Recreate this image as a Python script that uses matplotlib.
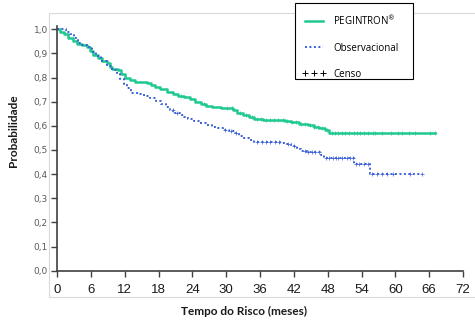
import numpy as np
import matplotlib
matplotlib.use("Agg")
import matplotlib.pyplot as plt
from matplotlib.lines import Line2D
from matplotlib.patches import Rectangle

# Kaplan-Meier estimates (months, survival probability)
peg_t = [0, 0.5, 1.2, 2.0, 2.8, 3.5, 4.5, 5.3, 5.9, 6.4, 7.2, 8.0, 8.8, 9.4, 9.8,
         10.8, 11.3, 12.0, 12.9, 13.8, 15.9, 16.6, 17.4, 18.3, 19.5, 20.5, 21.5,
         22.5, 23.5, 24.5, 25.5, 26.5, 27.5, 29.0, 30.5, 31.3, 32.0, 33.0, 34.0,
         35.0, 36.5, 39.0, 40.5, 41.5, 43.0, 44.5, 45.5, 46.5, 47.5, 48.3, 67.0]
peg_s = [1.0, 0.99, 0.98, 0.965, 0.95, 0.94, 0.935, 0.925, 0.91, 0.895, 0.88, 0.87,
         0.86, 0.845, 0.835, 0.83, 0.815, 0.80, 0.79, 0.782, 0.778, 0.77, 0.76,
         0.752, 0.742, 0.733, 0.725, 0.718, 0.71, 0.70, 0.69, 0.683, 0.678, 0.676,
         0.674, 0.665, 0.655, 0.645, 0.636, 0.630, 0.626, 0.624, 0.620, 0.614,
         0.608, 0.602, 0.596, 0.59, 0.584, 0.572, 0.572]

obs_t = [0, 1.6, 2.3, 3.0, 3.8, 4.5, 5.3, 6.2, 7.0, 7.8, 8.8, 9.7, 10.6, 11.2, 11.8,
         12.5, 13.2, 14.5, 15.5, 16.5, 17.5, 18.5, 19.3, 20.0, 20.6, 21.8, 22.5,
         23.3, 24.3, 25.3, 26.5, 27.5, 28.5, 29.5, 30.5, 31.5, 32.3, 33.0, 34.0,
         35.0, 39.5, 40.5, 41.5, 42.5, 43.3, 44.3, 46.8, 47.4, 52.7, 55.5, 64.7]
obs_s = [1.0, 0.99, 0.98, 0.962, 0.945, 0.935, 0.925, 0.905, 0.888, 0.87, 0.848,
         0.83, 0.815, 0.795, 0.775, 0.755, 0.738, 0.73, 0.722, 0.714, 0.705, 0.692,
         0.678, 0.664, 0.652, 0.645, 0.638, 0.628, 0.62, 0.611, 0.603, 0.597, 0.59,
         0.584, 0.578, 0.571, 0.56, 0.548, 0.54, 0.534, 0.531, 0.524, 0.516, 0.505,
         0.495, 0.49, 0.48, 0.466, 0.44, 0.40, 0.40]

# Censored observations (months)
peg_cens = [22.0, 26.0, 30.2, 31.0, 32.5, 33.5, 34.5, 35.5, 36.2, 37.0, 37.8, 38.5,
            39.2, 40.0, 40.8, 41.6, 42.4, 43.2, 44.0, 44.8, 45.6, 46.3, 47.0, 47.8,
            48.7, 49.3, 49.9, 50.5, 51.1, 51.7, 52.6, 53.2, 53.8, 54.4, 55.2, 56.1,
            56.4, 57.6, 59.3, 60.5, 61.1, 62.5, 63.4, 66.1, 67.0]
obs_cens = [20.5, 21.2, 29.8, 30.8, 31.8, 35.5, 36.3, 37.0, 37.8, 38.6, 39.3, 41.0,
            42.0, 44.0, 44.6, 45.2, 45.8, 46.4, 47.7, 48.2, 48.9, 49.4, 49.8, 50.5,
            51.4, 51.9, 52.5, 53.0, 53.6, 54.5, 55.2, 55.8, 56.7, 57.6, 58.5, 59.6,
            62.6, 64.7]

x_ticks = list(range(0, 73, 6))
y_ticks = [i / 10 for i in range(11)]
y_labels = [f"{v:.1f}".replace(".", ",") for v in y_ticks]

GREEN = "#1ec88f"
BLUE = "#3a5fd8"


def step_value(t_arr, s_arr, t):
    idx = np.searchsorted(t_arr, t, side="right") - 1
    return np.asarray(s_arr)[np.clip(idx, 0, len(s_arr) - 1)]


W, H = 475, 325
fig = plt.figure(figsize=(W / 100, H / 100), dpi=100)
fig.patch.set_facecolor("white")

# light plot-area frame
fig.add_artist(Rectangle((49 / W, 1 - 297 / H), (W + 2 - 49) / W, (297 - 13) / H,
                         transform=fig.transFigure, fill=False,
                         edgecolor="#d9d9d9", linewidth=0.8))

ax = fig.add_axes([57 / W, 1 - 270.7 / H, (463 - 57) / W, (270.7 - 26) / H])

ax.plot(peg_t, peg_s, drawstyle="steps-post", color=GREEN, lw=1.8)
ax.plot(obs_t, obs_s, drawstyle="steps-post", color=BLUE, lw=1.4,
        linestyle=(0, (1, 1.3)))

ax.plot(peg_cens, step_value(peg_t, peg_s, peg_cens), ls="none", marker="+",
        ms=2.5, mew=0.5, color=GREEN)
ax.plot(obs_cens, step_value(obs_t, obs_s, obs_cens), ls="none", marker="+",
        ms=2.5, mew=0.5, color=BLUE)

ax.set_xlim(0, 72)
ax.set_ylim(0, (270.7 - 26) / 241.4)
ax.set_xticks(x_ticks)
ax.set_xticklabels([str(v) for v in x_ticks], fontsize=9.5,
                   family="Liberation Sans", color="#1a1a1a")
ax.set_yticks(y_ticks)
ax.set_yticklabels(y_labels, fontsize=6.5, family="DejaVu Sans", color="#595959")

for side in ("top", "right"):
    ax.spines[side].set_visible(False)
for side in ("left", "bottom"):
    ax.spines[side].set_color("#404040")
    ax.spines[side].set_linewidth(1.2)
ax.tick_params(axis="x", length=4, width=1, color="#404040", pad=5.5)
ax.tick_params(axis="y", length=4, width=1, color="#404040", pad=2.5)

fig.text(244 / W, 1 - 311 / H, "Tempo do Risco (meses)", ha="center", va="center",
         fontsize=8.5, fontweight="bold", family="Lato", color="#1a1a1a")
fig.text(14 / W, 1 - 131 / H, "Probabilidade", ha="center", va="center",
         rotation=90, fontsize=8.5, fontweight="bold", family="Lato",
         color="#1a1a1a")

# legend box
fig.add_artist(Rectangle((295 / W, 1 - 79 / H), (413 - 295) / W, (79 - 3) / H,
                         transform=fig.transFigure, facecolor="white",
                         edgecolor="black", linewidth=0.8, zorder=5))

handles = [
    Line2D([], [], color=GREEN, lw=1.8),
    Line2D([], [], color=BLUE, lw=1.4, linestyle=(0, (1, 1.3))),
    Line2D([], [], color="black", ls="none", marker="+", ms=4, mew=0.7),
]
labels = ["PEGINTRON$^{\u00ae}$", "Observacional", "Censo"]
leg = fig.legend(handles, labels, loc="upper left",
                 bbox_to_anchor=(295 / W, 1 - 7 / H),
                 bbox_transform=fig.transFigure, borderaxespad=0,
                 numpoints=3, frameon=False,
                 prop={"family": "Open Sans", "size": 7},
                 labelspacing=1.55, handlelength=2.5, handletextpad=0.75,
                 borderpad=0.7)
leg.set_zorder(6)

fig.savefig("out.png", dpi=100)
